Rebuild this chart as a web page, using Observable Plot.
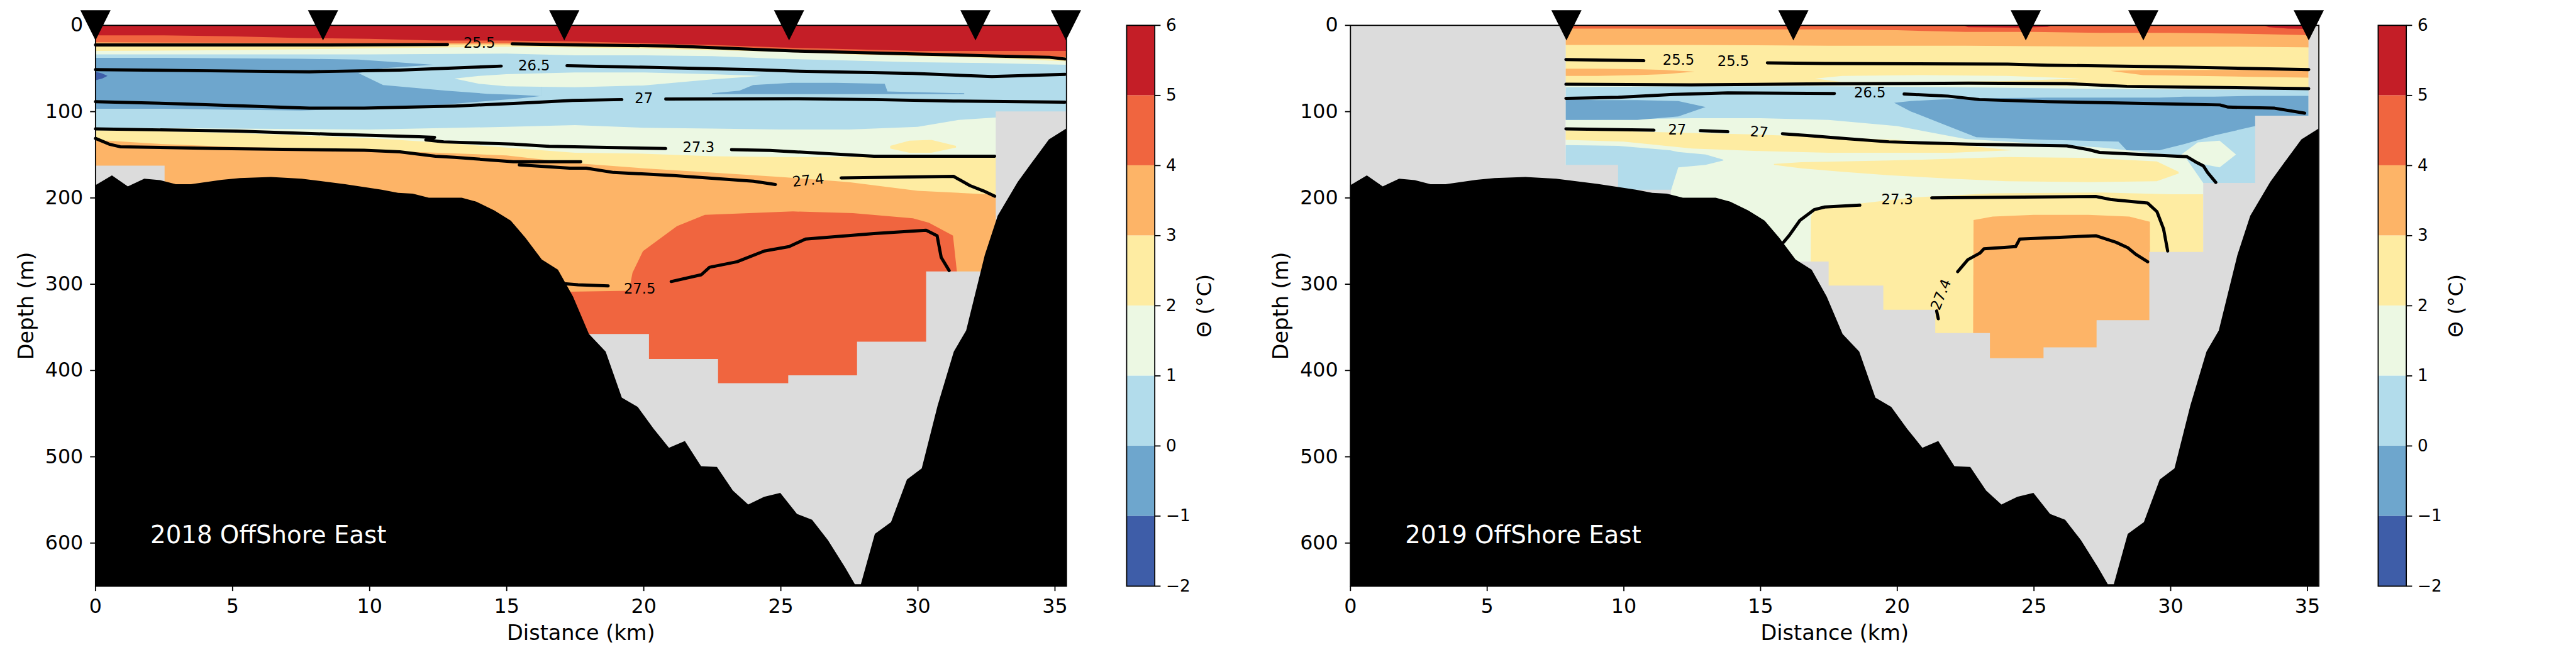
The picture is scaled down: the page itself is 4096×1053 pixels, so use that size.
<!DOCTYPE html>
<html><head><meta charset="utf-8">
<script src="https://cdn.jsdelivr.net/npm/d3@7"></script>
<script src="https://cdn.jsdelivr.net/npm/@observablehq/plot@0.6"></script>
<style>
html,body{margin:0;padding:0;background:#fff;overflow:hidden;}
#chart{position:relative;width:4096px;height:1053px;background:#fff;}
</style></head>
<body><div id="chart"></div>
<script>
// ---------------- data ----------------
const thetaClasses = [-2, -1, 0, 1, 2, 3, 4, 5];
const thetaColors = ["#3e5da8", "#6ea6cd", "#b2dceb", "#ecf8e3", "#feeca2", "#fdb467", "#f0653f", "#c41e27"];
const colorbarTicks = [-2, -1, 0, 1, 2, 3, 4, 5, 6];
const distanceTicks = [0, 5, 10, 15, 20, 25, 30, 35];
const depthTicks = [0, 100, 200, 300, 400, 500, 600];
const distanceMax = 35.42;
const depthMax = 650;

const stations2018 = [0, 8.3, 17.1, 25.3, 32.1, 35.4];
const stations2019 = [7.9, 16.2, 24.7, 29.0, 35.05];
const panelTitles = [[2, 600, "2018 OffShore East"], [2, 600, "2019 OffShore East"]];

// bathymetry [distance km, depth m]
const bathymetry = [[0,185.7],[0.61,174.3],[1.19,187],[1.79,178],[2.36,179.6],[2.94,184.4],[3.49,184.4],[4.62,179.4],[5.28,177.4],[6.41,176],[7.53,178],[9.12,184.4],[10.45,190.8],[11.05,194.5],[11.58,195.3],[12.17,200],[13.37,200],[13.9,204.6],[14.56,214.8],[15.16,226.6],[15.69,246.3],[16.29,271.6],[16.88,283.5],[17.43,314.6],[18.01,358],[18.62,378.4],[19.21,431.8],[19.79,442.6],[20.37,467.9],[20.93,489.9],[21.51,482.1],[22.1,511.3],[22.68,512.2],[23.26,539.4],[23.82,555.6],[24.4,546.8],[24.99,542.1],[25.6,566.6],[26.15,573.3],[26.73,597],[27.35,628.4],[27.71,648],[27.93,648],[28.44,589.7],[29.03,576],[29.61,526.7],[30.15,513.7],[30.73,440.9],[31.32,378.4],[31.77,354],[32.45,266.5],[32.92,221],[33.65,181.9],[34.2,157.9],[34.79,132.6],[35.42,120]];

// no-data (grey) region: [distance, top depth of missing data], step-after
const noData2018 = [[0,163],[2.53,650],[18.0,358],[20.2,387],[22.72,415],[25.28,406],[27.79,367],[30.31,285.5],[32.85,100],[35.42,100]];
const noData2019 = [[0,0],[7.88,162],[9.8,190.8],[11.73,650],[16.44,274],[17.5,302],[19.5,330],[21.4,357],[23.4,386],[25.36,373.5],[27.3,342],[29.23,263],[31.2,183],[33.1,105],[35.05,0],[35.42,0]];

// ---- 2018 temperature bands [distance, top depth, bottom depth] ----
const t18_base = [[0,0,650],[35.42,0,650]];
const t18_deepWarm = [[17.3,309,650],[19.47,308,650],[19.6,287,650],[19.98,262,650],[21.22,233,650],[22.24,220,650],[25.45,216,650],[27.64,218,650],[29.83,224,650],[30.41,229,650],[31.29,244,650],[31.43,285,650],[31.45,650,650]];
const t18_yellow = [[0,0,133],[2.5,0,138],[5,0,141],[7.5,0,143],[10,0,145],[12.5,0,148],[15,0,151],[17.5,0,160],[20,0,166],[22.5,0,171],[25,0,176],[27.5,0,182],[30,0,192],[32.5,0,196],[32.9,0,198],[35.42,0,198]];
const t18_green = [[0,0,122],[2.5,0,123],[5,0,125],[7.5,0,128],[10,0,131],[12.5,0,136],[15,0,142],[17.5,0,148],[20,0,149],[22.5,0,152],[25,0,153],[27.5,0,153],[30,0,153],[32.9,0,153],[35.42,0,153]];
const t18_yellowBlob = [[29.0,140,143],[29.7,134,148],[30.5,133,148],[31.4,140,142]];
const t18_lightBlue = [[0,0,119],[5,0,120],[10,0,121],[15,0,118],[17.5,0,116],[20,0,119],[22.5,0,120],[25,0,121],[27.5,0,121],[30,0,118],[31.5,0,110],[32.9,0,107],[35.42,0,107]];
const t18_blue = [[0,38,97],[2.5,38,97],[5,38.5,98],[7.5,39,99],[9.6,40,97],[11,43,95],[12.8,47,92],[14.3,47,88],[15.5,47,85],[16.3,47,82]];
const t18_lightBlueWedge = [[9.6,55.6,55.6],[10.5,50,69.5],[12.8,45,76],[14.3,45,79.6],[15.5,45,81],[16.3,45,82.5]];
const t18_greenWedge = [[13.1,62,62],[14,59,68],[15,57,71],[17.5,55,72],[20,55,70],[22.5,57,63],[24.3,59,59]];
const t18_blueStreak = [[22.5,79,80],[23.5,76,80],[24.0,69.5,80],[25.4,67,80],[27,67,80],[28.8,68,80],[28.9,77,80],[31.7,79,80]];
const t18_coldCore = [[0,54,64],[0.25,56,62],[0.45,59,59]];
const t18_greenTop = [[0,0,34],[5,0,34],[10,0,34],[15,0,33],[17.5,0,35],[20,0,35],[22.5,0,36],[25,0,39],[27.5,0,41],[30,0,43],[32.5,0,44],[35.42,0,46]];
const t18_yellowTop = [[0,0,30],[5,0,29],[10,0,27],[15,0,25],[17.5,0,26],[20,0,27],[22.5,0,29],[25,0,31],[27.5,0,34],[30,0,36],[32.5,0,38],[35.42,0,42]];
const t18_orangeTop = [[0,0,21.5],[5,0,22],[10,0,22.5],[15,0,22.5],[17.5,0,23.5],[20,0,25.5],[22.5,0,27.5],[25,0,30.5],[27.5,0,33.5],[30,0,35.5],[32.5,0,36.5],[35.42,0,38.5]];
const t18_warmTop = [[0,0,20],[5,0,20.5],[10,0,21],[15,0,21],[17.5,0,22],[20,0,24],[22.5,0,26],[25,0,29],[27.5,0,32],[30,0,34],[32.5,0,35],[35.42,0,37]];
const t18_hotTop = [[0,0,12],[2.5,0,12],[5,0,13],[7.5,0,15],[10,0,16],[12.5,0,18],[15,0,18],[17.5,0,19],[20,0,21],[22.5,0,23],[25,0,26],[27.5,0,28],[30,0,30],[32.5,0,30],[35.42,0,30]];
const bands2018 = [[3,t18_base],[4,t18_deepWarm],[2,t18_yellow],[1,t18_green],[2,t18_yellowBlob],[0,t18_lightBlue],[-1,t18_blue],[0,t18_lightBlueWedge],[1,t18_greenWedge],[-1,t18_blueStreak],[-2,t18_coldCore],[1,t18_greenTop],[2,t18_yellowTop],[3,t18_orangeTop],[4,t18_warmTop],[5,t18_hotTop]];

// ---- 2019 temperature bands ----
const t19_base = [[7.88,0,650],[35.42,0,650]];
const t19_deepYellow = [[16.8,650,650],[16.85,222,650],[17.0,214,650],[18.6,207,650],[20.5,200,650],[23.5,195,650],[27.5,194,650],[30,196,650],[31.2,196,650],[31.25,650,650]];
const t19_deepOrange = [[22.75,650,650],[22.8,226,650],[23.5,222,650],[25,220,650],[27,220,650],[28.5,222,650],[29.25,228,650],[29.3,650,650]];
const t19_lightBlue = [[7.88,0,110],[12.5,0,108],[15,0,108],[17.5,0,110],[20,0,117],[22.5,0,132],[25,0,137],[27.5,0,142],[29.6,0,149],[30.5,0,151],[31.2,0,183],[33.1,0,183],[35.42,0,183]];
const t19_lightBlueDeep = [[7.88,139,165],[9.8,140,195],[11.7,145,195],[12.0,147,165],[13.0,150,162],[13.65,156,157]];
const t19_greenPatch = [[30.4,150,150],[31,136,160],[31.8,134,165],[32.4,150,150]];
const t19_yellowMid = [[7.88,122,133],[10,123,135],[12.5,125,143],[15,127,146],[17.5,130,148],[20,133,148],[22,138,148],[24.2,145,145]];
const t19_yellowTongue = [[15.5,161,162],[16.5,159,166],[18,158,170],[19.7,157,174],[22,155,178],[24,153,181],[27,154,182],[29.5,158,181],[30.3,170,172]];
const t19_blueWest = [[7.88,86,110],[9,87,110],[10.5,87,110],[12,88,106],[13,95,95]];
const t19_blueEast = [[19.9,90,90],[20.5,88,100],[21.7,86,115],[22.9,85,130],[25.5,84,133],[28.1,84,135],[28.4,84,145],[29.6,84,145],[30.5,83,138],[31.6,83,128],[33.1,82,117],[35.05,82,110]];
const t19_greenTop = [[7.88,0,72],[12.5,0,71],[17.5,0,71],[22.5,0,72],[27.5,0,74],[32.5,0,75],[35.42,0,75]];
const t19_yellowTop = [[7.88,0,68],[12.5,0,68],[17.5,0,68],[22.5,0,69],[27.5,0,71],[32.5,0,72],[35.42,0,72]];
const t19_greenStreak = [[17.0,62,62],[18,59,66],[21,58,66],[24,59,65],[26.7,62,62]];
const t19_orangeStreakW = [[7.88,50.5,59],[9,50.5,59],[10.5,51,58],[11.5,52,57],[12.6,54,54]];
const t19_orangeStreakE = [[27.8,53,53],[29,52,58],[31,52,59],[33,52,60],[35.05,53,61]];
const t19_orangeTop = [[7.88,0,23],[12.5,0,23],[17.5,0,24],[22.5,0,24],[27.5,0,25],[32.5,0,25],[35.42,0,26]];
const t19_warmTop = [[7.88,0,4],[10,0,4],[12.5,0,4.5],[15,0,5],[17.5,0,5],[20,0,6],[22.5,0,8],[25,0,8],[27.5,0,9],[30,0,9],[32.5,0,10],[35.42,0,12]];
const t19_hotW = [[22.4,0,0],[22.6,0,2.5],[24.5,0,3],[25.5,0,2],[25.7,0,0]];
const t19_hotE = [[33.4,0,0],[33.6,0,2.5],[34.3,0,4],[35.05,0,4.5]];
const bands2019 = [[1,t19_base],[2,t19_deepYellow],[3,t19_deepOrange],[0,t19_lightBlue],[0,t19_lightBlueDeep],[1,t19_greenPatch],[2,t19_yellowMid],[2,t19_yellowTongue],[-1,t19_blueWest],[-1,t19_blueEast],[1,t19_greenTop],[2,t19_yellowTop],[1,t19_greenStreak],[3,t19_orangeStreakW],[3,t19_orangeStreakE],[3,t19_orangeTop],[4,t19_warmTop],[5,t19_hotW],[5,t19_hotE]];

// ---- isopycnals (density contours), segments of [distance, depth] ----
const iso2018 = [
  [[0,22.7],[8.46,22.7],[12.84,22.2]],
  [[15.2,21.5],[17.7,22.7],[21.1,24],[24.0,27.8],[25.45,29.6],[29.8,33],[32.7,35.4],[34.8,37],[35.37,39]],
  [[0,51.3],[3.16,52.3],[7.8,53.8],[11.1,51.8],[14.8,47.2]],
  [[17.2,46.7],[21.1,49.3],[24.0,51.3],[25.45,53],[29.8,55.6],[32.7,59.4],[35.37,56.8]],
  [[0,88.4],[3.16,91],[7.8,96],[9.8,96],[13.1,93.5],[15.75,89.7],[17.4,87],[19.2,86]],
  [[20.8,85.4],[25.45,85],[28.4,86],[31.3,87.7],[35.37,89]],
  [[0,120],[5.15,122.5],[8.46,126],[11.8,129],[12.37,129.8],[12.05,132.8],[12.7,135],[15.24,137.7],[16.55,140.2],[20.8,142.7]],
  [[23.2,144],[24.6,145],[28.4,151.6],[32.8,151.6]],
  [[0,131],[0.5,137.7],[0.9,140.7],[4.5,142.7],[9.8,144.8],[11.1,146.5],[12.4,151.6],[13.1,153],[15.24,158],[17.7,158]],
  [[15.46,161.7],[17.3,165.5],[17.9,165.5],[18.9,170.5],[21.1,174],[24.0,180.6],[24.8,184.4]],
  [[27.2,176.8],[31.3,175],[31.9,185.7],[32.4,192],[32.8,198]],
  [[17.1,299.4],[17.6,300.6],[18.7,302]],
  [[21.0,296.9],[22.1,289],[22.4,280.4],[23.4,274],[24.4,261.5],[25.3,256.4],[25.9,247.6],[28.4,241.3],[30.3,237.5],[30.7,243.8],[30.85,269],[31.14,284.2]]
];
const isoLabels2018 = [[14.0,20.8,"25.5"],[16.0,46.7,"26.5"],[20.0,84.8,"27"],[22.0,141.8,"27.3"],[26.0,179.8,"27.4"],[19.85,305.5,"27.5"]];
const isoLabelAngles2018 = [0, 0, 0, 0, -6, 0];

const iso2019 = [
  [[7.88,39.7],[10.73,41]],
  [[15.25,43.5],[17.35,44.2],[24.04,45],[25.5,46.2],[29.9,48],[35.05,51.3]],
  [[7.88,68.2],[12.46,69],[17.35,67.7],[22.6,67],[26.2,67.5],[28.4,70.7],[35.05,73.3]],
  [[7.88,84.6],[9.8,83.4],[11.8,80],[13.8,78.3],[17.7,79]],
  [[20.25,79.6],[21.85,82],[23.0,86],[25.5,88.4],[29.9,91],[31.8,92.2],[32.1,94.7],[33.8,96],[34.9,101.8]],
  [[7.88,120],[11.1,121.5]],
  [[12.8,122],[13.8,123.3]],
  [[15.8,125.6],[16.7,127.6],[18.2,131.4],[19.7,135],[22.6,137.7],[26.2,139.7],[27.0,144],[27.4,147.3],[30.6,152.3],[30.9,158],[31.2,163],[31.35,170.5],[31.65,182]],
  [[15.84,251.4],[16.04,243.8],[16.44,226],[16.97,213.5],[17.35,210.5],[18.63,208.4]],
  [[21.26,200],[27.26,198.3],[27.84,202],[29.16,206],[29.5,216],[29.74,236],[29.89,261.5]],
  [[22.21,285.5],[22.58,271.6],[23.02,264],[23.17,259],[24.33,256.4],[24.48,247.6],[27.26,243.8],[28.0,251.4],[28.43,257.7],[28.72,265.3],[29.16,274]],
  [[21.44,331],[21.5,340]]
];
const isoLabels2019 = [[12.0,40.6,"25.5"],[14.0,41.9,"25.5"],[19.0,78.5,"26.5"],[11.95,121.3,"27"],[14.95,123.8,"27"],[20.0,202.2,"27.3"],[21.6,312,"27.4"]];
const isoLabelAngles2019 = [0, 0, 0, 0, 4, 0, -68];

// ---------------- rendering ----------------
const K = 4096 / 4518;   // reference -> window
const FULL_H = 1162;
const chart = document.getElementById("chart");
const fontFamily = "DejaVu Sans";
const colorScale = {type: "ordinal", domain: thetaClasses, range: thetaColors};

const downTriangle = {
  draw(context, size) {
    const r = Math.sqrt(size / Math.PI);
    context.moveTo(0, r);
    context.lineTo(-r, -r);
    context.lineTo(r, -r);
    context.closePath();
  }
};

function place(svg, left, width) {
  svg.setAttribute("width", width * K);
  svg.setAttribute("height", FULL_H * K);
  svg.style.position = "absolute";
  svg.style.left = (left * K) + "px";
  svg.style.top = "0px";
  svg.style.maxWidth = "none";
  svg.style.background = "transparent";
  svg.style.overflow = "visible";
  chart.appendChild(svg);
}

function section({bands, noData, iso, isoLabels, isoAngles, stations, title, left, width, marginLeft, marginRight}) {
  const marks = [];
  for (const [v, pts] of bands) {
    marks.push(Plot.areaY(pts, {x: d => d[0], y1: d => d[1], y2: d => d[2], fill: () => v}));
  }
  marks.push(Plot.areaY(noData, {x: d => d[0], y1: d => d[1], y2: depthMax, curve: "step-after", fill: "#dcdcdc"}));
  marks.push(Plot.areaY(bathymetry, {x: d => d[0], y1: d => d[1], y2: depthMax, fill: "black"}));
  const isoPts = iso.flatMap((seg, i) => seg.map(p => ({s: i, x: p[0], d: p[1]})));
  marks.push(Plot.line(isoPts, {x: "x", y: "d", z: "s", stroke: "black", strokeWidth: 5.5, strokeLinejoin: "round"}));
  marks.push(Plot.text(isoLabels, {x: d => d[0], y: d => d[1], text: d => d[2], rotate: (d, i) => isoAngles[i], fontSize: 25, fill: "black", textAnchor: "middle", lineAnchor: "middle"}));
  marks.push(Plot.text([title], {x: d => d[0], y: d => d[1], text: d => d[2], fill: "white", fontSize: 42.7, textAnchor: "start", lineAnchor: "bottom"}));
  marks.push(Plot.frame({stroke: "black", strokeWidth: 2}));
  marks.push(Plot.axisX({ticks: distanceTicks, tickSize: 9, tickPadding: 12.6, fontSize: 35, strokeWidth: 2, label: null}));
  marks.push(Plot.axisY({ticks: depthTicks, tickSize: 9, tickPadding: 12.6, fontSize: 35, strokeWidth: 2, label: null}));
  marks.push(Plot.text(["Distance (km)"], {frameAnchor: "bottom", dy: 83, fontSize: 37, textAnchor: "middle", lineAnchor: "middle"}));
  marks.push(Plot.text(["Depth (m)"], {frameAnchor: "left", dx: -121, rotate: -90, fontSize: 37, textAnchor: "middle", lineAnchor: "middle"}));
  marks.push(Plot.dot(stations, {x: d => d, y: 0, symbol: downTriangle, r: 26.5, fill: "black", stroke: "none"}));
  const svg = Plot.plot({
    width, height: FULL_H, marginLeft, marginRight, marginTop: 44, marginBottom: 134,
    x: {domain: [0, distanceMax]},
    y: {domain: [0, depthMax], reverse: true},
    color: colorScale,
    style: {fontFamily, color: "black"},
    marks
  });
  place(svg, left, width);
}

function colorbar(left) {
  const width = 260;
  const svg = Plot.plot({
    width, height: FULL_H, marginLeft: 75, marginRight: 135.7, marginTop: 44, marginBottom: 134,
    x: {domain: [0, 1], axis: null},
    y: {domain: [-2, 6]},
    color: colorScale,
    style: {fontFamily, color: "black"},
    marks: [
      Plot.rect(thetaClasses, {x1: 0, x2: 1, y1: d => d, y2: d => d + 1, fill: d => d}),
      Plot.frame({stroke: "black", strokeWidth: 2}),
      Plot.axisY({anchor: "right", ticks: colorbarTicks, tickSize: 9.7, tickPadding: 10, fontSize: 29, strokeWidth: 2, label: null,
        tickFormat: d => d < 0 ? "\u2212" + (-d) : String(d)}),
      Plot.text(["\u0398 (\u00b0C)"], {frameAnchor: "right", dx: 87.4, rotate: -90, fontSize: 36, textAnchor: "middle", lineAnchor: "middle"})
    ]
  });
  place(svg, left, width);
}

section({bands: bands2018, noData: noData2018, iso: iso2018, isoLabels: isoLabels2018, isoAngles: isoLabelAngles2018,
  stations: stations2018, title: panelTitles[0], left: 0, width: 1900, marginLeft: 167, marginRight: 30});
colorbar(1900);
section({bands: bands2019, noData: noData2019, iso: iso2019, isoLabels: isoLabels2019, isoAngles: isoLabelAngles2019,
  stations: stations2019, title: panelTitles[1], left: 2200, width: 1940, marginLeft: 167.5, marginRight: 74});
colorbar(4095);
</script>
</body></html>
